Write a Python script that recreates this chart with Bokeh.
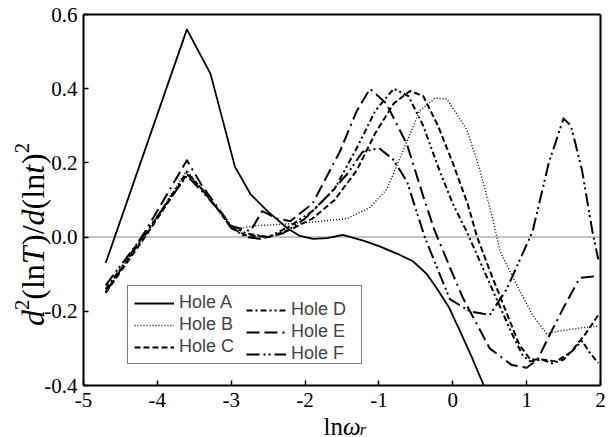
import math
from bokeh.plotting import figure
from bokeh.models import (Legend, LegendItem, FixedTicker, Range1d, NumeralTickFormatter,
                          LinearAxis, Label)
from bokeh.embed import file_html
from bokeh.resources import INLINE

# ---------------- data ----------------
x_ticks = [-5, -4, -3, -2, -1, 0, 1, 2]
x_tick_labels = ["-5", "-4", "-3", "-2", "-1", "0", "1", "2"]
y_ticks = [-0.4, -0.2, 0.0, 0.2, 0.4, 0.6]
y_tick_labels = ["-0.4", "-0.2", "0.0", "0.2", "0.4", "0.6"]

hole_a_x = [-4.7, -3.6, -3.28, -2.95, -2.74, -2.51, -2.24, -2.07, -1.89, -1.7, -1.49, -1.2, -0.99, -0.75, -0.54, -0.35, -0.22, -0.05, 0.09, 0.25, 0.42]
hole_a_y = [-0.07, 0.56, 0.44, 0.19, 0.116, 0.07, 0.024, 0.003, -0.005, -0.003, 0.006, -0.01, -0.025, -0.045, -0.065, -0.1, -0.137, -0.19, -0.25, -0.32, -0.40]

hole_b_x = [-4.7, -4.15, -3.6, -3.4, -3.2, -2.97, -2.7, -2.3, -1.93, -1.43, -1.12, -0.89, -0.68, -0.45, -0.24, -0.08, 0.19, 0.36, 0.54, 0.64, 0.86, 1.08, 1.27, 1.45, 1.72, 1.97]
hole_b_y = [-0.145, 0.01, 0.18, 0.13, 0.08, 0.02, 0.03, 0.035, 0.04, 0.05, 0.08, 0.13, 0.23, 0.34, 0.375, 0.372, 0.29, 0.186, 0.05, -0.038, -0.127, -0.21, -0.26, -0.253, -0.245, -0.24]

hole_c_x = [-4.7, -4.15, -3.6, -3.4, -3.2, -3.0, -2.8, -2.5, -2.2, -1.9, -1.6, -1.3, -1.05, -0.8, -0.58, -0.4, -0.2, 0.0, 0.2, 0.33, 0.5, 0.7, 0.9, 1.05, 1.2, 1.4, 1.6, 1.8, 1.97]
hole_c_y = [-0.15, 0.005, 0.17, 0.13, 0.08, 0.025, 0.005, 0.0, 0.02, 0.05, 0.1, 0.18, 0.28, 0.36, 0.394, 0.38, 0.30, 0.2, 0.09, 0.0, -0.09, -0.19, -0.29, -0.33, -0.33, -0.335, -0.31, -0.26, -0.21]

hole_d_x = [-4.7, -4.15, -3.6, -3.4, -3.2, -3.0, -2.8, -2.5, -2.2, -1.9, -1.6, -1.3, -1.05, -0.8, -0.6, -0.4, -0.2, 0.0, 0.2, 0.4, 0.6, 0.8, 0.95, 1.05, 1.2, 1.35, 1.5, 1.65, 1.75, 1.85, 1.97]
hole_d_y = [-0.14, 0.01, 0.175, 0.13, 0.08, 0.03, 0.01, 0.0, 0.03, 0.07, 0.13, 0.24, 0.34, 0.40, 0.38, 0.30, 0.19, 0.09, 0.01, -0.08, -0.17, -0.26, -0.32, -0.335, -0.33, -0.34, -0.33, -0.30, -0.28, -0.31, -0.34]

hole_e_x = [-4.7, -4.15, -3.6, -3.4, -3.2, -3.0, -2.74, -2.58, -2.38, -2.2, -1.9, -1.53, -1.3, -1.12, -0.9, -0.62, -0.4, -0.25, 0.0, 0.14, 0.5, 0.8, 1.0, 1.15, 1.27, 1.5, 1.72, 1.95]
hole_e_y = [-0.15, 0.02, 0.207, 0.14, 0.085, 0.03, 0.016, 0.07, 0.05, 0.043, 0.09, 0.23, 0.34, 0.40, 0.36, 0.25, 0.11, 0.02, -0.1, -0.165, -0.30, -0.345, -0.352, -0.33, -0.28, -0.19, -0.11, -0.105]

hole_f_x = [-4.7, -4.15, -3.6, -3.4, -3.2, -3.0, -2.8, -2.6, -2.3, -2.0, -1.7, -1.43, -1.22, -1.0, -0.81, -0.62, -0.38, -0.04, 0.23, 0.5, 0.73, 1.08, 1.3, 1.5, 1.6, 1.75, 1.89, 1.97]
hole_f_y = [-0.13, 0.015, 0.165, 0.125, 0.08, 0.025, 0.0, -0.005, 0.01, 0.05, 0.11, 0.17, 0.23, 0.24, 0.21, 0.15, 0.0, -0.167, -0.20, -0.21, -0.14, 0.015, 0.2, 0.32, 0.30, 0.18, 0.016, -0.06]

series_names = ["Hole A", "Hole B", "Hole C", "Hole D", "Hole E", "Hole F"]

SERIF = "Liberation Serif"
SANS = "Liberation Sans"

# ---------------- geometry (pixels) ----------------
W, H = 613, 437
B = 1                                   # tiny border; the frame covers the whole page
BOX_L, BOX_R, BOX_T, BOX_B = 83, 600, 14, 385
X_MIN, X_MAX = x_ticks[0], x_ticks[-1]
Y_MIN, Y_MAX = y_ticks[0], y_ticks[-1]
px_x = (BOX_R - BOX_L) / (X_MAX - X_MIN)
px_y = (BOX_B - BOX_T) / (Y_MAX - Y_MIN)
x_lo = X_MIN - (BOX_L - B) / px_x
x_hi = X_MAX + (W - B - BOX_R) / px_x
y_hi = Y_MAX + (BOX_T - B) / px_y
y_lo = Y_MIN - (H - B - BOX_B) / px_y
FRAME_L, FRAME_B = B, H - B

p = figure(width=W, height=H, output_backend="svg", toolbar_location=None, title=None,
           x_range=Range1d(x_lo, x_hi), y_range=Range1d(y_lo, y_hi),
           min_border_left=B, min_border_right=B, min_border_top=B, min_border_bottom=B)
p.background_fill_color = "white"
p.border_fill_color = "white"
p.grid.visible = False
p.outline_line_color = None

for ax in (p.xaxis[0], p.yaxis[0]):
    ax.axis_line_color = "black"
    ax.axis_line_width = 2
    ax.major_tick_in = 5
    ax.major_tick_out = 0
    ax.major_tick_line_width = 1.5
    ax.minor_tick_line_color = None
    ax.major_label_text_font = SERIF
    ax.major_label_text_font_size = "21px"
    ax.major_label_text_color = "black"

p.xaxis.fixed_location = Y_MIN
p.xaxis.bounds = (X_MIN, X_MAX)
p.yaxis.fixed_location = X_MIN
p.yaxis.bounds = (Y_MIN, Y_MAX)
p.xaxis.ticker = FixedTicker(ticks=x_ticks)
p.yaxis.ticker = FixedTicker(ticks=y_ticks)
p.xaxis.formatter = NumeralTickFormatter(format="0")
p.yaxis.formatter = NumeralTickFormatter(format="0.0")
p.xaxis.major_label_overrides = dict(zip(x_ticks, x_tick_labels))
p.yaxis.major_label_overrides = dict(zip(y_ticks, y_tick_labels))
p.xaxis.major_label_standoff = 7
p.yaxis.major_label_standoff = 6

# top and right edges of the box
top_ax = LinearAxis(ticker=FixedTicker(ticks=[]), axis_line_width=2, axis_line_color="black",
                    major_tick_in=0, major_tick_out=0, minor_tick_in=0, minor_tick_out=0,
                    fixed_location=Y_MAX, bounds=(X_MIN, X_MAX))
right_ax = LinearAxis(ticker=FixedTicker(ticks=[]), axis_line_width=2, axis_line_color="black",
                      major_tick_in=0, major_tick_out=0, minor_tick_in=0, minor_tick_out=0,
                      fixed_location=X_MAX, bounds=(Y_MIN, Y_MAX))
p.add_layout(top_ax, "above")
p.add_layout(right_ax, "right")

# zero reference line across the box
p.line([X_MIN, X_MAX], [0, 0], line_color="#b0b0b0", line_width=1.5)

styles = [
    dict(line_dash="solid", line_width=1.8),
    dict(line_dash="1 2", line_width=1.4),
    dict(line_dash="6 3", line_width=2),
    dict(line_dash="6 3 2 3 6 3 2 3 2 3", line_width=2),
    dict(line_dash="13 5 13 5 2 5", line_width=2),
    dict(line_dash="13 4 2 3 2 4", line_width=2),
]
xs = [hole_a_x, hole_b_x, hole_c_x, hole_d_x, hole_e_x, hole_f_x]
ys = [hole_a_y, hole_b_y, hole_c_y, hole_d_y, hole_e_y, hole_f_y]
renderers = []
for xv, yv, st in zip(xs, ys, styles):
    renderers.append(p.line(xv, yv, line_color="black", line_join="round", **st))

LEG_L1, LEG_L2, LEG_BOTTOM = 127, 246, 364
common = dict(label_text_font=SANS, label_text_font_size="18px", glyph_width=40, glyph_height=20,
              label_standoff=5, spacing=1, padding=6, margin=0)
items = [LegendItem(label=n, renderers=[r]) for n, r in zip(series_names, renderers)]
legend1 = Legend(items=items[:3], location=(LEG_L1 - FRAME_L, FRAME_B - LEG_BOTTOM), label_width=176,
                 border_line_color="black", border_line_width=1.5,
                 background_fill_color="white", background_fill_alpha=1.0, **common)
legend2 = Legend(items=items[3:], location=(LEG_L2 - FRAME_L, FRAME_B - LEG_BOTTOM), label_width=50,
                 border_line_color=None, background_fill_alpha=0.0, **common)
p.add_layout(legend1)
p.add_layout(legend2)

# ---------------- axis titles (Labels inside the full-page frame) ----------------
W_UP = {"(": 0.333, ")": 0.333, "l": 0.278, "n": 0.5, "/": 0.278, "2": 0.5}
W_IT = {"d": 0.5, "T": 0.60, "t": 0.31, "ω": 0.667, "r": 0.389}


def piece_width(txt, italic, fs):
    tbl = W_IT if italic else W_UP
    return sum(tbl.get(c, 0.5) for c in txt) * fs


def add_piece(txt, italic, size, sx, sy, angle):
    p.add_layout(Label(x=sx, y=sy, x_units="screen", y_units="screen", text=txt, angle=angle,
                       text_font=SERIF, text_font_size=f"{size:.1f}px",
                       text_font_style="italic" if italic else "normal",
                       text_align="left", text_baseline="alphabetic", text_color="black"))


x_title = [("ln", False, 0), ("ω", True, 0), ("r", True, -0.14)]
fs_x = 25
pos = 0.0
for txt, italic, shift in x_title:
    size = fs_x * (0.65 if shift else 1.0)
    add_piece(txt, italic, size, 323 - FRAME_L + pos, FRAME_B - 426 + shift * fs_x, 0)
    pos += piece_width(txt, italic, size)

y_title = [("d", True, 0), ("2", False, 0.33), ("(ln", False, 0), ("T", True, 0), (")/", False, 0),
           ("d", True, 0), ("(ln", False, 0), ("t", True, 0), (")", False, 0), ("2", False, 0.33)]
fs_y = 32
total = sum(piece_width(t, i, fs_y * (0.65 if s else 1.0)) for t, i, s in y_title)
start_canvas_y = 234 + total / 2
pos = 0.0
for txt, italic, shift in y_title:
    size = fs_y * (0.65 if shift else 1.0)
    add_piece(txt, italic, size, 32 - FRAME_L - shift * fs_y, FRAME_B - start_canvas_y + pos, math.pi / 2)
    pos += piece_width(txt, italic, size)

open("out.html", "w").write(file_html(p, INLINE))
